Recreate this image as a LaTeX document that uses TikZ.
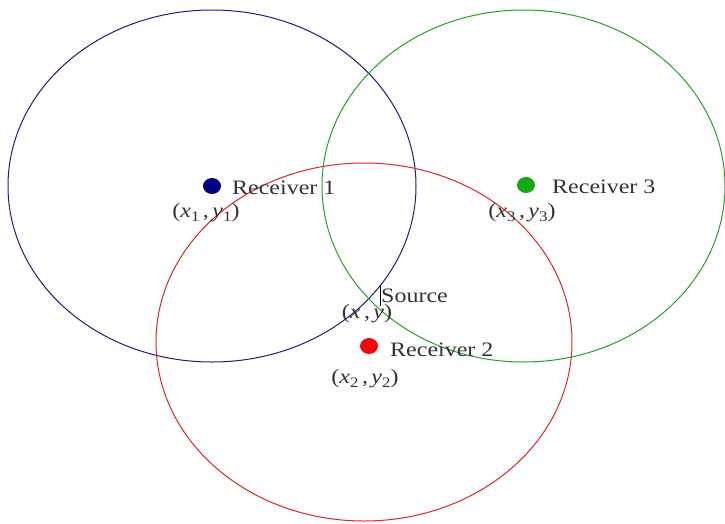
\documentclass[tikz,border=0pt]{standalone}
\usepackage{fontspec}
\setmainfont[FakeStretch=1.17]{Liberation Serif}
\newcommand\lsub[1]{\raisebox{-0.4ex}{\fontsize{14.5}{14.5}\selectfont #1}}
\definecolor{cblue}{RGB}{30,30,120}
\definecolor{cgreen}{RGB}{40,160,40}
\definecolor{cred}{RGB}{220,40,40}
\definecolor{dblue}{RGB}{0,0,130}
\definecolor{dgreen}{RGB}{20,170,20}
\definecolor{dred}{RGB}{240,10,10}
\begin{document}
\begin{tikzpicture}[x=1pt,y=-1pt,
  ring/.style={line width=1pt},
  lbl/.style={inner sep=0pt,font=\fontsize{20.5}{24}\selectfont,text=black!80},
  dot/.style={fill=#1,draw=none}]
\useasboundingbox (0,0) rectangle (725,523);
\fill[white] (0,0) rectangle (725,523);
\draw[ring,cblue] (212,186) ellipse [x radius=204, y radius=176];
\draw[ring,cgreen] (523.5,186) ellipse [x radius=201.5, y radius=176];
\draw[ring,cred] (364,342) ellipse [x radius=208, y radius=179];
\fill[dot=dblue] (212,186) ellipse [x radius=9, y radius=8];
\fill[dot=dgreen] (526,185) ellipse [x radius=9, y radius=8];
\fill[dot=dred] (369,346) ellipse [x radius=9, y radius=8];
\node[lbl,anchor=west] (r1) at (232,188) {Receiver 1};
\node[lbl] (p1) at (206,213) {(\textit{x}\lsub{1}\,,\,\textit{y}\lsub{1})};
\node[lbl,anchor=west] (r3) at (552,187) {Receiver 3};
\node[lbl] (p3) at (522,213) {(\textit{x}\lsub{3}\,,\,\textit{y}\lsub{3})};
\node[lbl,anchor=west] (src) at (381,296) {Source};
\node[lbl] (ps) at (367,314) {(\textit{x}\,,\,\textit{y})};
\node[lbl,anchor=west] (r2) at (390,350) {Receiver 2};
\node[lbl] (p2) at (365,379) {(\textit{x}\lsub{2}\,,\,\textit{y}\lsub{2})};
\coordinate (s1) at (380.5,285);
\coordinate (s2) at (380.5,306);
\draw[line width=0.8pt,black] (s1) -- (s2);
\end{tikzpicture}
\end{document}
